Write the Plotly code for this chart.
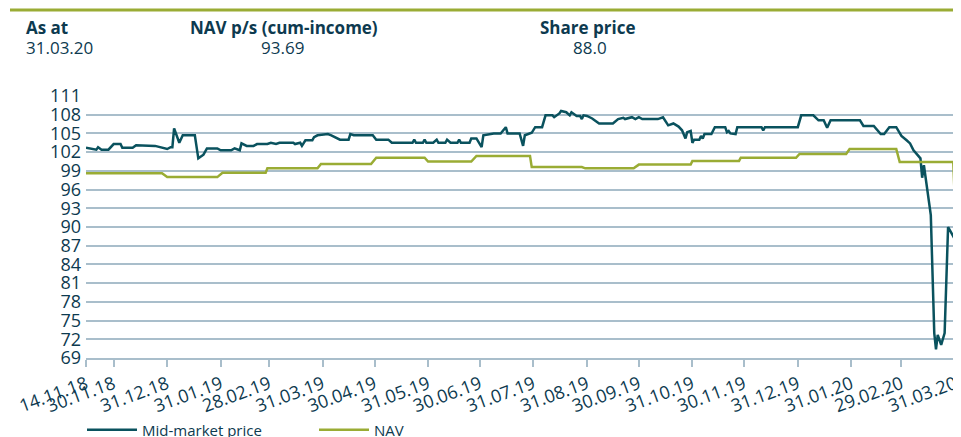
import plotly.graph_objects as go

# ---------------- data ----------------
header_labels = ["As at", "NAV p/s (cum-income)", "Share price"]
header_values = ["31.03.20", "93.69", "88.0"]

price_dates = [
    "2018-11-14", "2018-11-20", "2018-11-21", "2018-11-23", "2018-11-27", "2018-11-30",
    "2018-12-04", "2018-12-05", "2018-12-11", "2018-12-13", "2018-12-24", "2018-12-28",
    "2018-12-31", "2019-01-02", "2019-01-03", "2019-01-04", "2019-01-07", "2019-01-09",
    "2019-01-16", "2019-01-18", "2019-01-21", "2019-01-23", "2019-01-29", "2019-01-31",
    "2019-02-06", "2019-02-08", "2019-02-11", "2019-02-12", "2019-02-15", "2019-02-19",
    "2019-02-21", "2019-02-27", "2019-03-01", "2019-03-04", "2019-03-06", "2019-03-14",
    "2019-03-15", "2019-03-18", "2019-03-19", "2019-03-21", "2019-03-25", "2019-03-26",
    "2019-03-28", "2019-04-03", "2019-04-05", "2019-04-10", "2019-04-15", "2019-04-16",
    "2019-04-18", "2019-04-29", "2019-05-01", "2019-05-08", "2019-05-10", "2019-05-22",
    "2019-05-23", "2019-05-24", "2019-05-28", "2019-05-29", "2019-05-30", "2019-06-03",
    "2019-06-05", "2019-06-06", "2019-06-10", "2019-06-11", "2019-06-13", "2019-06-17",
    "2019-06-18", "2019-06-19", "2019-06-24", "2019-06-25", "2019-06-28", "2019-07-01",
    "2019-07-02", "2019-07-08", "2019-07-12", "2019-07-15", "2019-07-16", "2019-07-23",
    "2019-07-25", "2019-07-26", "2019-07-30", "2019-08-01", "2019-08-05", "2019-08-07",
    "2019-08-11", "2019-08-12", "2019-08-15", "2019-08-16", "2019-08-19", "2019-08-21",
    "2019-08-22", "2019-08-25", "2019-08-27", "2019-08-28", "2019-08-29", "2019-08-31",
    "2019-09-03", "2019-09-07", "2019-09-15", "2019-09-18", "2019-09-21", "2019-09-22",
    "2019-09-26", "2019-09-28", "2019-09-30", "2019-10-02", "2019-10-11", "2019-10-14",
    "2019-10-17", "2019-10-20", "2019-10-23", "2019-10-25", "2019-10-27", "2019-10-28",
    "2019-10-30", "2019-10-31", "2019-11-01", "2019-11-04", "2019-11-05", "2019-11-06",
    "2019-11-07", "2019-11-11", "2019-11-13", "2019-11-19", "2019-11-20", "2019-11-21",
    "2019-11-22", "2019-11-25", "2019-11-26", "2019-12-10", "2019-12-11", "2019-12-12",
    "2019-12-31", "2020-01-02", "2020-01-09", "2020-01-12", "2020-01-15", "2020-01-17",
    "2020-01-19", "2020-02-05", "2020-02-07", "2020-02-13", "2020-02-17", "2020-02-19",
    "2020-02-22", "2020-02-26", "2020-02-29", "2020-03-03", "2020-03-05", "2020-03-07",
    "2020-03-09", "2020-03-11", "2020-03-12", "2020-03-13", "2020-03-17", "2020-03-19",
    "2020-03-20", "2020-03-21", "2020-03-23", "2020-03-25", "2020-03-27", "2020-03-31",
]
price_values = [
    102.7, 102.4, 102.8, 102.4, 102.4, 103.3,
    103.3, 102.7, 102.7, 103.1, 103.0, 102.7,
    102.5, 102.8, 102.8, 105.8, 103.5, 104.7,
    104.7, 101.0, 101.6, 102.6, 102.6, 102.3,
    102.3, 102.6, 102.3, 103.4, 103.0, 103.0,
    103.3, 103.3, 103.5, 103.3, 103.5, 103.5,
    103.3, 103.5, 103.0, 103.9, 103.9, 104.4,
    104.7, 104.9, 104.7, 104.0, 104.0, 104.9,
    104.7, 104.7, 104.0, 104.0, 103.5, 103.5,
    104.0, 103.5, 103.5, 104.0, 103.5, 103.5,
    104.0, 103.5, 103.5, 104.0, 103.5, 103.5,
    104.0, 103.5, 103.5, 104.2, 104.2, 102.8,
    104.7, 105.0, 105.0, 106.0, 105.0, 105.0,
    103.0, 104.7, 105.1, 106.0, 106.0, 107.9,
    107.9, 107.6, 108.2, 108.6, 108.4, 107.9,
    108.4, 107.8, 107.8, 107.3, 107.9, 107.8,
    107.4, 106.6, 106.6, 107.3, 107.5, 107.3,
    107.6, 107.3, 107.6, 107.3, 107.3, 107.6,
    106.3, 106.6, 106.1, 105.5, 104.2, 105.2,
    105.4, 103.5, 104.0, 104.0, 104.6, 104.2,
    104.9, 104.9, 106.0, 106.0, 105.2, 105.4,
    105.0, 104.9, 106.0, 106.0, 105.5, 106.0,
    106.0, 107.9, 107.9, 107.1, 107.1, 105.9,
    107.1, 107.1, 106.2, 106.2, 104.9, 104.9,
    106.0, 106.0, 104.6, 103.9, 103.4, 102.3,
    101.7, 101.0, 97.9, 99.9, 91.9, 73.0,
    70.4, 72.7, 71.1, 73.0, 90.0, 88.0,
]

nav_dates = [
    "2018-11-14", "2018-12-28", "2018-12-31", "2019-01-29", "2019-02-01", "2019-02-26",
    "2019-02-27", "2019-03-28", "2019-03-30", "2019-04-28", "2019-05-01", "2019-05-29",
    "2019-05-31", "2019-06-25", "2019-06-28", "2019-07-29", "2019-07-30", "2019-08-28",
    "2019-08-30", "2019-09-27", "2019-09-30", "2019-10-30", "2019-10-31", "2019-11-27",
    "2019-11-28", "2019-12-30", "2020-01-01", "2020-01-28", "2020-01-30", "2020-02-26",
    "2020-02-28", "2020-03-30", "2020-03-31",
]
nav_values = [
    98.6, 98.6, 98.0, 98.0, 98.7, 98.7,
    99.4, 99.4, 100.1, 100.1, 101.1, 101.1,
    100.5, 100.5, 101.4, 101.4, 99.6, 99.6,
    99.4, 99.4, 100.0, 100.0, 100.6, 100.6,
    101.1, 101.1, 101.7, 101.7, 102.5, 102.5,
    100.4, 100.4, 93.69,
]

x_tick_dates = [
    "2018-11-14", "2018-11-30", "2018-12-31", "2019-01-31", "2019-02-28", "2019-03-31",
    "2019-04-30", "2019-05-31", "2019-06-30", "2019-07-31", "2019-08-31", "2019-09-30",
    "2019-10-31", "2019-11-30", "2019-12-31", "2020-01-31", "2020-02-29", "2020-03-31",
]
x_tick_labels = [
    "14.11.18", "30.11.18", "31.12.18", "31.01.19", "28.02.19", "31.03.19",
    "30.04.19", "31.05.19", "30.06.19", "31.07.19", "31.08.19", "30.09.19",
    "31.10.19", "30.11.19", "31.12.19", "31.01.20", "29.02.20", "31.03.20",
]
y_ticks = list(range(69, 112, 3))

# ---------------- style ----------------
NAVY = "#0d3a4f"
TEAL = "#0a525e"
GREEN = "#9aac34"
GRID = "#a9becb"
FONT = "Open Sans"

fig = go.Figure()
fig.add_trace(go.Scatter(
    x=price_dates, y=price_values, name="Mid-market price", mode="lines",
    line=dict(color=TEAL, width=2.5),
))
fig.add_trace(go.Scatter(
    x=nav_dates, y=nav_values, name="NAV", mode="lines",
    line=dict(color=GREEN, width=2.5),
))

# the page body adds an 8px offset; size the figure so the plot sits where the reference has it
OFF = 8
W, H = 961 - OFF, 437 - OFF
L, R, T, B = 86 - OFF, 5, 96 - OFF, 79

fig.update_layout(
    width=W, height=H,
    margin=dict(l=L, r=R, t=T, b=B, autoexpand=False),
    paper_bgcolor="white", plot_bgcolor="white",
    font=dict(family=FONT, color=NAVY),
    showlegend=True,
    legend=dict(
        orientation="h", x=-4 / (W - L - R), xanchor="left",
        yref="container", y=(H - (430 - OFF)) / H, yanchor="middle",
        font=dict(size=15, color=NAVY), entrywidth=167, entrywidthmode="pixels",
        bgcolor="rgba(0,0,0,0)", itemwidth=50,
    ),
    xaxis=dict(
        type="date", range=["2018-11-14", "2020-03-31 14:00"], automargin=False,
        tickvals=x_tick_dates, ticktext=x_tick_labels, tickangle=-20,
        tickfont=dict(size=18, color=NAVY),
        showgrid=False, showline=True, linecolor=GRID, linewidth=2,
        ticks="outside", ticklen=7, tickwidth=2, tickcolor=GRID,
        zeroline=False,
    ),
    yaxis=dict(
        range=[69, 111], tickvals=y_ticks, automargin=False,
        tickfont=dict(size=18, color=NAVY),
        showgrid=True, gridcolor=GRID, gridwidth=2,
        showline=False, zeroline=False, ticks="", ticklabelstandoff=4,
    ),
)

def px_x(x):
    return (x - OFF - L) / (W - L - R)

def px_y(y):
    return (H - B - (y - OFF)) / (H - T - B)

# top rule
fig.add_shape(type="line", xref="paper", yref="paper",
              x0=px_x(10), x1=px_x(961), y0=px_y(10), y1=px_y(10),
              line=dict(color=GREEN, width=3))

label_pos = [(24, "left"), (188, "left"), (538, "left")]
value_pos = [(24, "left"), (282, "center"), (590, "center")]
for (lx, la), text in zip(label_pos, header_labels):
    fig.add_annotation(x=px_x(lx), y=px_y(27), xref="paper", yref="paper",
                       text=f"<b>{text}</b>", showarrow=False, xanchor=la, yanchor="middle",
                       font=dict(size=17, color=NAVY, family=FONT))
for (vx, va), text in zip(value_pos, header_values):
    fig.add_annotation(x=px_x(vx), y=px_y(48), xref="paper", yref="paper",
                       text=text, showarrow=False, xanchor=va, yanchor="middle",
                       font=dict(size=17, color=NAVY, family=FONT))

fig.write_html("out.html")
